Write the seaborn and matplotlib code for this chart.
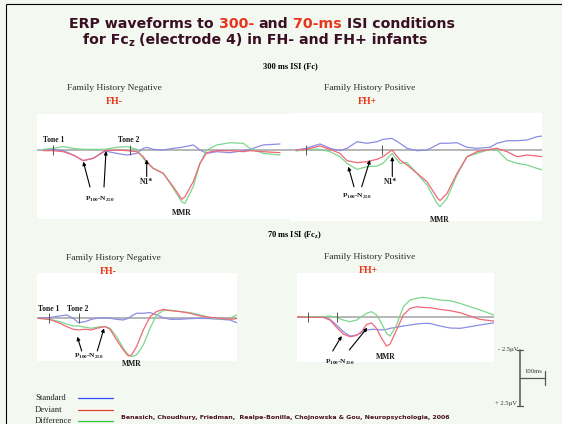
import matplotlib
matplotlib.use("Agg")
import matplotlib.pyplot as plt
import numpy as np
import pandas as pd
import seaborn as sns

# ---------------------------------------------------------------------------
# Grand-average ERP waveforms at Fcz.
# Time in ms from tone-1 onset, amplitude in microvolts (negative plotted up).
# ---------------------------------------------------------------------------

# 300 ms ISI, family history negative
t_300_neg = [-39, 1, 41, 81, 121, 161, 208, 255, 295, 335, 361, 375, 401, 441,
             481, 515, 528, 561, 588, 615, 655, 708, 761, 788, 841, 908]
std_300_neg = [0, -0.06, 0.06, 0.45, 0.95, 0.74, 0.09, 0.3, 0.45, 0.3, -0.15,
               -0.24, -0.06, 0, -0.15, -0.24, -0.3, -0.45, 0, 0.3, 0.15, 0.24,
               0.06, -0.06, -0.45, -0.54]
dev_300_neg = [0.06, 0.06, 0.15, 0.45, 0.95, 0.74, 0.06, 0, 0.06, 0.15, 0.6,
               1.04, 1.64, 2.08, 3.27, 4.4, 4.17, 2.83, 1.19, 0.24, 0.06, 0.06,
               0.15, 0.06, 0.15, 0.24]
diff_300_neg = [-0.06, -0.15, -0.3, -0.15, -0.06, -0.06, -0.06, -0.24, -0.3,
                -0.06, 0.74, 1.13, 1.64, 2.08, 3.42, 4.64, 4.76, 3.27, 1.19, 0,
                -0.45, -0.65, -0.6, -0.15, 0.3, 0.45]

# 300 ms ISI, family history positive
t_300_pos = [-40, 0, 56, 96, 136, 164, 204, 244, 284, 308, 344, 376, 404, 444,
             484, 524, 536, 564, 604, 644, 684, 736, 764, 804, 844, 884, 924, 948]
std_300_pos = [0, -0.15, -0.54, -0.15, 0.06, -0.15, -0.74, -0.6, -0.74, -0.95,
               -1.04, -0.6, -0.15, 0.06, 0, -0.45, -0.6, -0.6, -0.65, -0.24,
               -0.15, -0.24, -0.6, -0.83, -0.83, -0.89, -1.19, -1.25]
dev_300_pos = [0, -0.06, -0.36, -0.06, 0.3, 0.95, 1.13, 1.04, 0.83, 0.6, 0,
               0.89, 1.34, 2.08, 2.83, 4.23, 4.52, 3.87, 2.08, 0.6, 0.15, -0.06,
               -0.15, 0.15, 0.6, 0.45, 0.54, 0.6]
diff_300_pos = [0.09, -0.06, -0.06, 0.15, 0.6, 1.19, 1.73, 1.49, 1.43, 1.19,
                0.3, 1.19, 1.13, 2.08, 3.13, 4.76, 5.06, 4.32, 2.23, 0.6, 0.3,
                -0.06, 0, 0.89, 1.19, 1.34, 1.64, 1.79]

# 70 ms ISI, family history negative
t_70_neg = [-44, 0, 43, 69, 96, 116, 143, 169, 189, 209, 223, 243, 269, 296,
            316, 329, 349, 376, 403, 429, 456, 483, 523, 563, 603, 643, 683,
            723, 763]
std_70_neg = [0, -0.06, -0.21, -0.3, 0, 0.39, 0.3, 0.09, 0, -0.03, -0.06, 0,
              0.09, 0.15, 0, -0.21, -0.45, -0.45, -0.51, -0.3, -0.06, 0.09,
              0.09, 0.03, 0, 0.03, 0.09, 0.15, 0.51]
dev_70_neg = [0, 0.09, 0.45, 0.74, 0.98, 1.04, 0.98, 1.04, 0.89, 0.8, 0.74,
              0.98, 1.93, 2.83, 3.36, 3.27, 2.53, 1.04, -0.15, -0.6, -0.8,
              -0.68, -0.6, -0.45, -0.21, -0.09, 0, 0.09, 0]
diff_70_neg = [0, 0.09, 0.3, 0.51, 0.68, 0.68, 0.8, 0.89, 0.8, 0.74, 0.74,
               0.89, 1.64, 2.68, 3.27, 3.42, 3.27, 2.38, 0.89, -0.3, -0.68,
               -0.74, -0.6, -0.51, -0.3, -0.06, 0.06, 0, -0.45]

# 70 ms ISI, family history positive
t_70_pos = [-47, 0, 60, 87, 113, 140, 167, 193, 213, 233, 253, 273, 293, 313,
            327, 353, 380, 407, 433, 460, 487, 527, 567, 607, 647, 687, 743]
std_70_pos = [0, 0, 0, 0.24, 0.74, 1.34, 1.73, 1.64, 1.43, 1.19, 1.13, 1.13,
              1.19, 1.13, 1.04, 0.95, 0.83, 0.74, 0.65, 0.6, 0.6, 0.83, 1.01,
              1.04, 0.89, 0.74, 0.54]
dev_70_pos = [0, 0.06, 0.06, 0.3, 0.95, 1.55, 1.79, 1.67, 1.34, 0.7, 0.55,
              1.04, 1.93, 2.62, 2.44, 1.19, -0.15, -0.74, -0.89, -0.83, -0.8,
              -0.65, -0.54, -0.36, -0.06, 0.24, 0.39]
diff_70_pos = [0, 0, 0, -0.06, 0.06, 0.3, 0.45, 0.3, 0, -0.3, -0.45, -0.15,
               0.6, 1.49, 1.73, 0.74, -0.89, -1.49, -1.64, -1.73, -1.64, -1.49,
               -1.43, -1.19, -0.89, -0.6, -0.15]

# onset of the second tone in each condition (ms)
tone2_300_neg, tone2_300_pos = 308, 303
tone2_70_neg, tone2_70_pos = 117, 114

waves = ["Standard", "Deviant", "Difference"]

# ---------------------------------------------------------------------------
# styling
# ---------------------------------------------------------------------------
W, H = 562, 424
PX_PER_MS = 0.25      # horizontal scale of the traces
PX_PER_UV = 11.2      # vertical scale of the traces
BG = "#f3f9f0"
DARK = "#3a0f24"
RED = "#e8341c"
WAVE_COLORS = {"Standard": "#8c8ce6", "Deviant": "#f06878", "Difference": "#7dd68d"}
KEY_COLORS = {"Standard": "#2a4bff", "Deviant": "#e0442a", "Difference": "#2fc83a"}

sns.set_theme(style="white")
plt.rcParams["font.family"] = ["Liberation Serif", "DejaVu Sans"]
plt.rcParams["mathtext.fontset"] = "custom"
plt.rcParams["mathtext.rm"] = "Liberation Serif"
plt.rcParams["mathtext.bf"] = "Liberation Serif:bold"

fig = plt.figure(figsize=(W / 100, H / 100), dpi=100)
fig.patch.set_facecolor(BG)


def panel(rect, x0, base, t, std, dev, diff, tone2):
    left, right, top, bottom = rect
    ax = fig.add_axes([left / W, 1 - bottom / H, (right - left) / W, (bottom - top) / H])
    ax.set_facecolor("white")
    n = len(t)
    df = pd.DataFrame({
        "t": list(t) * 3,
        "uV": list(std) + list(dev) + list(diff),
        "wave": ["Standard"] * n + ["Deviant"] * n + ["Difference"] * n,
    })
    ax.axhline(0, color="#a3a3a3", lw=1.1, zorder=1)
    sns.lineplot(data=df, x="t", y="uV", hue="wave",
                 hue_order=["Standard", "Difference", "Deviant"],
                 palette=WAVE_COLORS, estimator=None, sort=False,
                 lw=0.9, legend=False, ax=ax, zorder=2)
    ax.vlines([0, tone2], -0.45, 0.45, color="#555555", lw=0.7, zorder=3)
    ax.set_xlim((left - x0) / PX_PER_MS, (right - x0) / PX_PER_MS)
    ax.set_ylim((bottom - base) / PX_PER_UV, (top - base) / PX_PER_UV)
    ax.set_xticks([])
    ax.set_yticks([])
    ax.set_xlabel("")
    ax.set_ylabel("")
    for s in ax.spines.values():
        s.set_visible(False)
    return ax


panel((37, 290, 114, 219), 53, 150, t_300_neg, std_300_neg, dev_300_neg, diff_300_neg, tone2_300_neg)
panel((290, 542, 113, 221), 306, 150, t_300_pos, std_300_pos, dev_300_pos, diff_300_pos, tone2_300_pos)
panel((37, 237, 273, 361), 49.3, 318.3, t_70_neg, std_70_neg, dev_70_neg, diff_70_neg, tone2_70_neg)
panel((297, 494, 273, 362), 308.3, 316.7, t_70_pos, std_70_pos, dev_70_pos, diff_70_pos, tone2_70_pos)

# overlay in pixel units for titles, labels and annotations
ov = fig.add_axes([0, 0, 1, 1], zorder=10)
ov.set_xlim(0, W)
ov.set_ylim(H, 0)
ov.axis("off")

# slide frame
ov.plot([6, 6], [4, H], color="black", lw=0.8, solid_capstyle="butt")
ov.plot([6, W], [4, 4], color="black", lw=0.8, solid_capstyle="butt")

renderer = fig.canvas.get_renderer()


def seg_width(s, fp):
    a = ov.text(0, 0, "|" + s + "|", **fp)
    w1 = a.get_window_extent(renderer).width
    a.remove()
    b = ov.text(0, 0, "||", **fp)
    w0 = b.get_window_extent(renderer).width
    b.remove()
    return w1 - w0


def rich_line(xc, y, segs, family, size, weight="bold"):
    parts = []
    for s, color, scale, dy in segs:
        fp = dict(family=family, fontsize=size * scale, fontweight=weight)
        lead = len(s) - len(s.lstrip())
        parts.append((s, color, dy, fp, seg_width(s, fp),
                      seg_width(" " * lead, fp) if lead else 0.0))
    x = xc - sum(p[4] for p in parts) / 2
    for s, color, dy, fp, w, off in parts:
        ov.text(x + off, y + dy, s.strip(), color=color, ha="left", va="baseline", **fp)
        x += w


TITLE_FONT = ["DejaVu Sans"]
rich_line(262, 28, [("ERP waveforms to ", DARK, 1, 0), ("300-", RED, 1, 0),
                    (" and ", DARK, 1, 0), ("70-ms", RED, 1, 0),
                    (" ISI conditions", DARK, 1, 0)], TITLE_FONT, 10.2)
rich_line(255, 44, [("for Fc", DARK, 1, 0), ("z", DARK, 0.7, 2.5),
                    (" (electrode 4) in FH- and FH+ infants", DARK, 1, 0)], TITLE_FONT, 10.2)

serif_b = dict(family="Liberation Serif", fontweight="bold")
serif = dict(family="Liberation Serif")

ov.text(290, 66, "300 ms ISI (Fc)", fontsize=6, ha="center", va="center", color="black", **serif_b)
ov.text(295, 235, r"70 ms ISI (Fc$_{\mathregular{z}}$)", fontsize=6, ha="center", va="center",
        color="black", **serif_b)

for xc, y, txt in [(114, 88, "Family History Negative"), (370, 88, "Family History Positive"),
                   (113, 257.5, "Family History Negative"), (370, 257.3, "Family History Positive")]:
    ov.text(xc, y, txt, fontsize=6.8, ha="center", va="center", color="#2b2b2b", **serif)
for xc, y, txt in [(114, 102, "FH-"), (367, 102, "FH+"), (108, 271, "FH-"), (368, 270.7, "FH+")]:
    ov.text(xc, y, txt, fontsize=7, ha="center", va="center", color=RED, **serif_b)

for x, y, txt in [(43.3, 140, "Tone 1"), (118, 140, "Tone 2"),
                  (38.3, 309.3, "Tone 1"), (66.7, 309.3, "Tone 2")]:
    ov.text(x, y, txt, fontsize=5.5, ha="left", va="center", color="#1a1a1a", **serif_b)

PN = r"P$_{\mathregular{100}}$-N$_{\mathregular{250}}$"
for xc, y in [(100, 199), (357, 196.7), (89, 356.7), (340, 362.3)]:
    ov.text(xc, y, PN, fontsize=5.3, ha="center", va="center", color="#1a1a1a", **serif_b)
for xc, y in [(146.7, 182.3), (391, 182.3)]:
    ov.text(xc, y, "N1*", fontsize=5.5, ha="center", va="center", color="#1a1a1a", **serif_b)
for xc, y in [(181.7, 212.7), (440, 219.5), (132, 364.3), (386, 357.3)]:
    ov.text(xc, y, "MMR", fontsize=5.5, ha="center", va="center", color="#1a1a1a", **serif_b)

arrows = [((90, 187), (83.3, 161.7)), ((104, 187), (106, 151)), ((146.7, 176.5), (146.7, 159.5)),
          ((354, 186.7), (348.3, 166.7)), ((361.7, 186.7), (370, 160)), ((392.3, 176.5), (392.3, 156.7)),
          ((81.7, 351), (77.3, 336.7)), ((97.3, 351), (104, 328.3)),
          ((332.7, 351), (341.7, 336)), ((349.3, 350), (367.3, 327.7))]
for tail, tip in arrows:
    ov.annotate("", xy=tip, xytext=tail,
                arrowprops=dict(arrowstyle="-|>", color="black", lw=0.8,
                                mutation_scale=5, shrinkA=0, shrinkB=0))

# calibration bar: 5 uV vertical, 100 ms horizontal
sx, sy_top = 520, 350
v_len = 5 * PX_PER_UV
h_len = 100 * PX_PER_MS
bar = "#555555"
ov.plot([sx, sx], [sy_top, sy_top + v_len], color=bar, lw=1.1)
ov.plot([sx - 3, sx + 3], [sy_top, sy_top], color=bar, lw=0.9)
ov.plot([sx - 3, sx + 3], [sy_top + v_len, sy_top + v_len], color=bar, lw=0.9)
mid = sy_top + v_len / 2
ov.plot([sx, sx + h_len], [mid, mid], color=bar, lw=0.9)
ov.plot([sx + h_len, sx + h_len], [mid - 7, mid + 7], color=bar, lw=0.9)
ov.text(sx - 2, sy_top - 1, "- 2.5\u00b5V", fontsize=4.8, ha="right", va="center", color="#333333", **serif)
ov.text(sx - 3, sy_top + v_len - 3, "+ 2.5\u00b5V", fontsize=4.8, ha="right", va="center", color="#333333", **serif)
ov.text(sx + 4, mid - 6.5, "100ms", fontsize=4.8, ha="left", va="center", color="#333333", **serif)

# key
for name, y in zip(waves, [398.3, 409.6, 421]):
    ov.text(35, y, name, fontsize=6.2, ha="left", va="center", color="#222222", **serif)
    ov.plot([78.3, 112.7], [y, y], color=KEY_COLORS[name], lw=0.9)

ov.text(285, 417.3,
        "Benasich, Choudhury, Friedman,  Realpe-Bonilla, Chojnowska & Gou, Neuropsychologia, 2006",
        fontsize=4.5, ha="center", va="center", color="#4a1020",
        family="DejaVu Sans", fontweight="bold")

fig.savefig("out.png", dpi=100, facecolor=BG)
